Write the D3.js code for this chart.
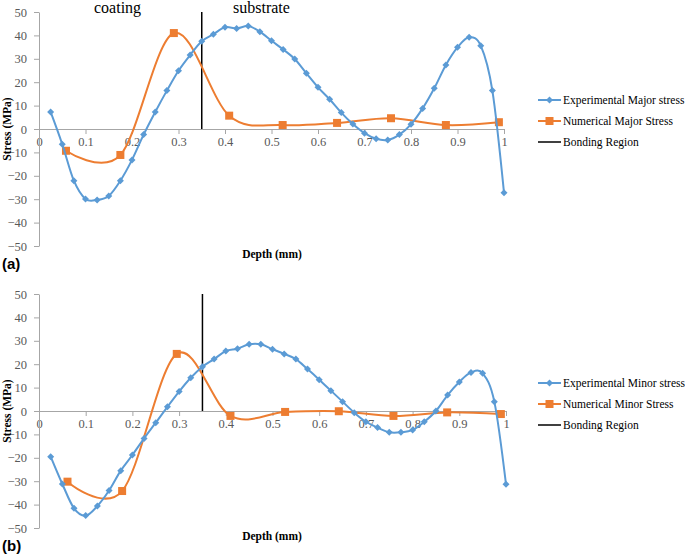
<!DOCTYPE html>
<html>
<head>
<meta charset="utf-8">
<script src="https://cdn.jsdelivr.net/npm/d3@7"></script>
<style>
  html, body { margin: 0; padding: 0; background: #fff; }
  svg { display: block; }
  .tick text { font-family: "Liberation Serif", "Times New Roman", serif; font-size: 12.5px; fill: #595959; }
</style>
</head>
<body>
<svg id="chart" width="685" height="555"></svg>
<script>
// ---------- DATA ----------
const expDepth = [0.025,0.05,0.075,0.1,0.125,0.15,0.175,0.2,0.225,0.25,0.275,0.3,0.325,0.35,0.375,0.4,0.425,0.45,0.475,0.5,0.525,0.55,0.575,0.6,0.625,0.65,0.675,0.7,0.725,0.75,0.775,0.8,0.825,0.85,0.875,0.9,0.925,0.95,0.975,1.0];
const expMajor = [7.3,-6.5,-22.1,-29.9,-30.3,-28.6,-22.1,-13.2,-2.4,7.3,16.4,24.9,31.6,37.5,40.5,43.5,43.0,44.0,41.6,37.7,34.0,29.9,23.8,17.8,12.7,7.0,2.1,-1.8,-4.2,-4.7,-2.4,2.0,8.8,17.4,27.4,34.9,39.2,35.6,16.4,-27.2];
const numDepthMajor = [0.058,0.175,0.290,0.409,0.524,0.641,0.757,0.875,0.989];
const numMajor = [-9.3,-11.1,41.0,5.7,1.7,2.6,4.6,1.7,2.9];

const expMinor = [-19.5,-31.2,-41.6,-44.7,-40.6,-34.0,-25.5,-18.8,-11.7,-5.0,1.8,8.3,14.2,18.9,22.2,25.6,26.6,28.5,28.5,26.4,24.4,22.2,17.9,13.4,8.7,4.0,-0.7,-4.6,-7.1,-9.1,-9.1,-8.1,-4.6,0.0,6.8,12.4,16.5,16.1,4.0,-31.3];
const numDepthMinor = [0.061,0.178,0.295,0.410,0.527,0.642,0.759,0.874,0.989];
const numMinor = [-30.2,-34.2,24.4,-2.1,-0.4,-0.1,-2.1,-0.6,-1.3];

const bondingDepth = [0.35,0.35];
const bondingStress = [0,50];

const xTicks = [0,0.1,0.2,0.3,0.4,0.5,0.6,0.7,0.8,0.9,1];
const yTicks = [-50,-40,-30,-20,-10,0,10,20,30,40,50];

const legendMajor = ["Experimental Major stress","Numerical Major Stress","Bonding Region"];
const legendMinor = ["Experimental Minor stress","Numerical Minor Stress","Bonding Region"];
const panelLabels = ["(a)","(b)"];
const regionLabels = ["coating","substrate"];
const xTitle = "Depth (mm)";
const yTitle = "Stress (MPa)";

// ---------- DRAW ----------
const svg = d3.select("#chart");
const BLUE = "#5b9bd5", ORANGE = "#ed7d31", AXIS = "#a6a6a6";
const serif = "Liberation Serif, Times New Roman, serif";

function panel(cfg) {
  const g = svg.append("g");
  const x = d3.scaleLinear().domain([0,1]).range([39, cfg.xRight]);
  const y = d3.scaleLinear().domain([-50,50]).range([cfg.yBottom, cfg.yTop]);

  const xa = g.append("g").attr("transform", `translate(0,${y(0)})`)
    .call(d3.axisBottom(x).tickValues(xTicks).tickFormat(d => d3.format("")(d)).tickSize(5).tickPadding(3).tickSizeOuter(0));
  const ya = g.append("g").attr("transform", `translate(${x(0)},0)`)
    .call(d3.axisLeft(y).tickValues(yTicks).tickSize(5).tickPadding(7).tickSizeOuter(0));
  [xa, ya].forEach(a => {
    a.attr("font-family", null);
    a.select(".domain").attr("stroke", AXIS).attr("stroke-width", 1);
    a.selectAll(".tick line").attr("stroke", AXIS);
  });

  const line = d3.line().x(d => x(d[0])).y(d => y(d[1])).curve(d3.curveCardinal.tension(0));

  g.append("path").datum(d3.zip(bondingDepth, bondingStress))
    .attr("d", d3.line().x(d => x(d[0])).y(d => y(d[1])))
    .attr("stroke", "#000").attr("stroke-width", 1.5).attr("fill", "none");

  const num = d3.zip(cfg.numX, cfg.numY);
  g.append("path").datum(num).attr("d", line)
    .attr("stroke", ORANGE).attr("stroke-width", 2).attr("fill", "none");
  g.selectAll(".sq").data(num).join("rect")
    .attr("x", d => x(d[0]) - 4).attr("y", d => y(d[1]) - 4)
    .attr("width", 8).attr("height", 8).attr("fill", ORANGE);

  const exp = d3.zip(expDepth, cfg.expY);
  g.append("path").datum(exp).attr("d", line)
    .attr("stroke", BLUE).attr("stroke-width", 2).attr("fill", "none");
  g.selectAll(".dm").data(exp).join("path")
    .attr("d", "M0,-3.5L3.5,0L0,3.5L-3.5,0Z")
    .attr("transform", d => `translate(${x(d[0])},${y(d[1])})`)
    .attr("fill", BLUE);

  g.append("text").attr("x", 272).attr("y", cfg.xTitleY)
    .attr("text-anchor", "middle").style("font-family", serif)
    .attr("font-weight", "bold").attr("font-size", 11.5).attr("fill", "#000").text(xTitle);
  g.append("text").attr("transform", `translate(11,${y(0)}) rotate(-90)`)
    .attr("text-anchor", "middle").style("font-family", serif)
    .attr("font-weight", "bold").attr("font-size", 11.5).attr("fill", "#000").text(yTitle);
  g.append("text").attr("x", 2).attr("y", cfg.panelY)
    .style("font-family", "Liberation Sans, Arial, sans-serif").attr("font-weight", "bold")
    .attr("font-size", 15).attr("fill", "#000").text(cfg.panelLabel);

  const lg = g.append("g");
  cfg.legend.forEach((name, i) => {
    const ly = cfg.legendY + i * 21;
    const col = i === 0 ? BLUE : i === 1 ? ORANGE : "#000";
    lg.append("line").attr("x1", 538).attr("x2", 561).attr("y1", ly).attr("y2", ly)
      .attr("stroke", col).attr("stroke-width", i === 2 ? 1.5 : 2);
    if (i === 0) lg.append("path").attr("d", "M0,-3.5L3.5,0L0,3.5L-3.5,0Z")
      .attr("transform", `translate(549.5,${ly})`).attr("fill", BLUE);
    if (i === 1) lg.append("rect").attr("x", 545.5).attr("y", ly - 4).attr("width", 8).attr("height", 8).attr("fill", ORANGE);
    lg.append("text").attr("x", 563).attr("y", ly + 4)
      .style("font-family", serif).attr("font-size", 11.5).attr("fill", "#000").text(name);
  });
  return {x, y, g};
}

const panelA = panel({xRight: 504, yTop: 12, yBottom: 246, numX: numDepthMajor, numY: numMajor, expY: expMajor,
  legend: legendMajor, legendY: 100, xTitleY: 258, panelY: 269, panelLabel: panelLabels[0]});
panel({xRight: 506, yTop: 294, yBottom: 528, numX: numDepthMinor, numY: numMinor, expY: expMinor,
  legend: legendMinor, legendY: 383, xTitleY: 540, panelY: 551, panelLabel: panelLabels[1]});

panelA.g.append("text").attr("x", 94).attr("y", 13).style("font-family", serif).attr("font-size", 16).attr("fill", "#000").text(regionLabels[0]);
panelA.g.append("text").attr("x", 233).attr("y", 13).style("font-family", serif).attr("font-size", 16).attr("fill", "#000").text(regionLabels[1]);
</script>
</body>
</html>
